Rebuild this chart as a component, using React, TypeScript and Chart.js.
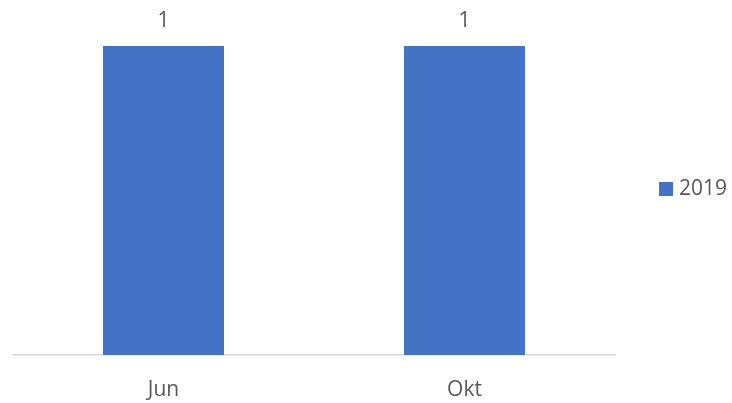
import React, { useEffect, useRef } from "react";
import { Chart, registerables } from "chart.js";

Chart.register(...registerables);

const categories = ["Jun", "Okt"];
const seriesLabel = "2019";
const seriesValues = [1, 1];

const FONT = "'Open Sans', 'Noto Sans', sans-serif";
const TEXT = "#595959";
const BAR = "#4472C4";

export default function App() {
  const ref = useRef<HTMLCanvasElement>(null);
  useEffect(() => {
    if (!ref.current) return;
    const labelsPlugin = {
      id: "valueLabels",
      afterDatasetsDraw(chart: any) {
        const ctx = chart.ctx;
        ctx.save();
        ctx.font = `21px ${FONT}`;
        ctx.fillStyle = TEXT;
        ctx.textAlign = "center";
        ctx.textBaseline = "middle";
        chart.data.datasets.forEach((ds: any, di: number) => {
          chart.getDatasetMeta(di).data.forEach((el: any, i: number) => {
            ctx.fillText(String(ds.data[i]), el.x, el.y - 25);
          });
        });
        ctx.restore();
      },
    };
    const legendPlugin = {
      id: "customLegend",
      afterDraw(chart: any) {
        const ctx = chart.ctx;
        const ds = chart.data.datasets[0];
        ctx.save();
        ctx.fillStyle = ds.backgroundColor;
        ctx.fillRect(659, 182, 14, 14);
        ctx.font = `21px ${FONT}`;
        ctx.fillStyle = TEXT;
        ctx.textAlign = "left";
        ctx.textBaseline = "middle";
        ctx.fillText(ds.label, 679, 189);
        ctx.restore();
      },
    };
    const chart = new Chart(ref.current, {
      type: "bar",
      data: {
        labels: categories,
        datasets: [
          {
            label: seriesLabel,
            data: seriesValues,
            backgroundColor: BAR,
            barPercentage: 0.402,
            categoryPercentage: 1,
          },
        ],
      },
      options: {
        animation: false,
        responsive: false,
        maintainAspectRatio: false,
        layout: { padding: { left: 13, right: 117, top: 46, bottom: 0 } },
        plugins: { legend: { display: false }, tooltip: { enabled: false } },
        scales: {
          x: {
            grid: { display: false, drawTicks: false },
            border: { display: true, color: "#D9D9D9", width: 1.5 },
            ticks: {
              color: TEXT,
              font: { family: FONT, size: 21 },
              padding: 22,
            },
            afterFit: (scale: any) => {
              scale.height = 48;
            },
          },
          y: { display: false, min: 0, max: 1 },
        },
      },
      plugins: [labelsPlugin, legendPlugin],
    });
    return () => chart.destroy();
  }, []);
  return (
    <div style={{ position: "fixed", left: 0, top: 0, width: 732, height: 403, background: "#fff" }}>
      <canvas ref={ref} width={732} height={403} />
    </div>
  );
}
